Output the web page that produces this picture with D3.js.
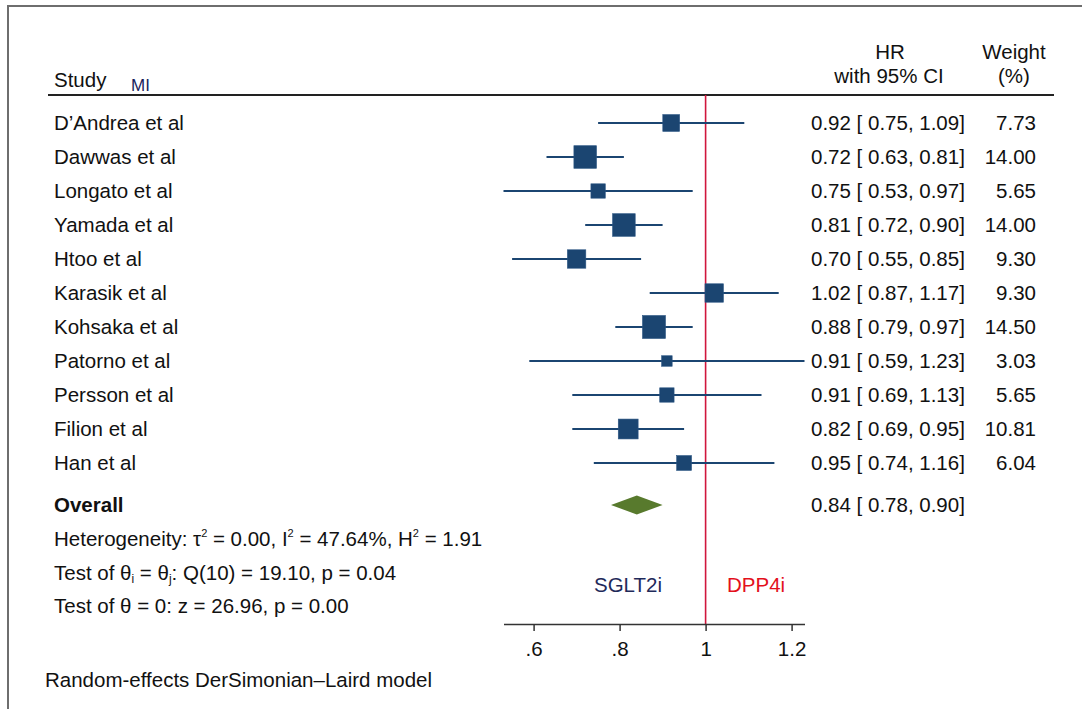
<!DOCTYPE html>
<html>
<head>
<meta charset="utf-8">
<script src="https://cdn.jsdelivr.net/npm/d3@7"></script>
<style>
  body { margin: 0; background: #fff; }
  text { font-family: "Liberation Sans", Arial, sans-serif; fill: #111; }
</style>
</head>
<body>
<div id="chart"></div>
<script>
// forest plot, MI outcome, SGLT2i vs DPP4i

const studies = ["D\u2019Andrea et al", "Dawwas et al", "Longato et al", "Yamada et al", "Htoo et al",
  "Karasik et al", "Kohsaka et al", "Patorno et al", "Persson et al", "Filion et al", "Han et al"];
const hr     = [0.92, 0.72, 0.75, 0.81, 0.70, 1.02, 0.88, 0.91, 0.91, 0.82, 0.95];
const lower  = [0.75, 0.63, 0.53, 0.72, 0.55, 0.87, 0.79, 0.59, 0.69, 0.69, 0.74];
const upper  = [1.09, 0.81, 0.97, 0.90, 0.85, 1.17, 0.97, 1.23, 1.13, 0.95, 1.16];
const weight = [7.73, 14.00, 5.65, 14.00, 9.30, 9.30, 14.50, 3.03, 5.65, 10.81, 6.04];

const overall = {hr: 0.84, lo: 0.78, hi: 0.90};
const tickVals = [0.6, 0.8, 1, 1.2];

const width = 1082, height = 709;
const fs = 20.5;
const navy = "#1b4571";

const data = studies.map((s, i) => ({study: s, hr: hr[i], lo: lower[i], hi: upper[i], w: weight[i]}));

const svg = d3.select("#chart").append("svg")
  .attr("width", width).attr("height", height);

// frame (cut off at right and bottom like the source image)
svg.append("path")
  .attr("d", `M8,${height} V6 H${width}`)
  .attr("fill", "none").attr("stroke", "#6e6e6e").attr("stroke-width", 2);

// scales
const x = d3.scaleLinear()
  .domain([d3.min(lower), d3.max(upper)])
  .range([503.5, 804.5]);
const y = d3.scaleLinear().domain([0, 1]).range([123, 157]); // row index -> centre
const size = d3.scaleSqrt().domain([0, d3.max(weight)]).range([0, 23]);

const overallY = y(data.length - 1) + 42;
const axisY = 624;
const headerY = 95;

// headers
svg.append("text").attr("x", 54).attr("y", 87).attr("font-size", fs).text("Study");
svg.append("text").attr("x", 131).attr("y", 91).attr("font-size", 17).style("fill", "#1a1f5c").text("MI");
svg.append("text").attr("x", 890).attr("y", 59).attr("font-size", fs).attr("text-anchor", "middle").text("HR");
svg.append("text").attr("x", 889).attr("y", 83).attr("font-size", fs).attr("text-anchor", "middle").text("with 95% CI");
svg.append("text").attr("x", 1014).attr("y", 59).attr("font-size", fs).attr("text-anchor", "middle").text("Weight");
svg.append("text").attr("x", 1014).attr("y", 83).attr("font-size", fs).attr("text-anchor", "middle").text("(%)");

svg.append("line")
  .attr("x1", 48).attr("x2", 1054).attr("y1", headerY).attr("y2", headerY)
  .attr("stroke", "#222").attr("stroke-width", 2);

// reference line at HR = 1
svg.append("line")
  .attr("x1", x(1)).attr("x2", x(1)).attr("y1", headerY).attr("y2", axisY)
  .attr("stroke", "#d0163c").attr("stroke-width", 1.6);

// study rows
const rows = svg.append("g").selectAll("g").data(data).join("g")
  .attr("transform", (d, i) => `translate(0,${y(i)})`);

rows.append("text").attr("x", 54).attr("y", 7).attr("font-size", fs).text(d => d.study);

rows.append("line")
  .attr("x1", d => x(d.lo)).attr("x2", d => x(d.hi))
  .attr("stroke", navy).attr("stroke-width", 2);

rows.append("rect")
  .attr("x", d => x(d.hr) - size(d.w) / 2)
  .attr("y", d => -size(d.w) / 2)
  .attr("width", d => size(d.w)).attr("height", d => size(d.w))
  .attr("fill", navy).attr("stroke", "#2a5583").attr("stroke-width", 0.6);

const f2 = d3.format(".2f");
rows.append("text").attr("x", 811).attr("y", 7).attr("font-size", fs)
  .text(d => `${f2(d.hr)} [ ${f2(d.lo)}, ${f2(d.hi)}]`);
rows.append("text").attr("x", 1036).attr("y", 7).attr("font-size", fs).attr("text-anchor", "end")
  .text(d => f2(d.w));

// overall
svg.append("text").attr("x", 54).attr("y", overallY + 7).attr("font-size", fs)
  .attr("font-weight", "bold").text("Overall");
svg.append("path")
  .attr("d", `M${x(overall.lo)},${overallY} L${x(overall.hr)},${overallY - 9.5} L${x(overall.hi)},${overallY} L${x(overall.hr)},${overallY + 9.5} Z`)
  .attr("fill", "#587a2d");
svg.append("text").attr("x", 811).attr("y", overallY + 7).attr("font-size", fs)
  .text(`${f2(overall.hr)} [ ${f2(overall.lo)}, ${f2(overall.hi)}]`);

// statistics lines
const het = svg.append("text").attr("x", 54).attr("y", overallY + 41).attr("font-size", fs);
het.append("tspan").text("Heterogeneity: \u03C4");
het.append("tspan").attr("font-size", 11).attr("dy", -9).text("2");
het.append("tspan").attr("dy", 9).text(" = 0.00, I");
het.append("tspan").attr("font-size", 11).attr("dy", -9).text("2");
het.append("tspan").attr("dy", 9).text(" = 47.64%, H");
het.append("tspan").attr("font-size", 11).attr("dy", -9).text("2");
het.append("tspan").attr("dy", 9).text(" = 1.91");

const t1 = svg.append("text").attr("x", 54).attr("y", overallY + 75).attr("font-size", fs);
t1.append("tspan").text("Test of \u03B8");
t1.append("tspan").attr("font-size", 12).attr("dy", 3).text("i");
t1.append("tspan").attr("dy", -3).text(" = \u03B8");
t1.append("tspan").attr("font-size", 12).attr("dy", 3).text("j");
t1.append("tspan").attr("dy", -3).text(": Q(10) = 19.10, p = 0.04");

svg.append("text").attr("x", 54).attr("y", overallY + 108).attr("font-size", fs)
  .text("Test of \u03B8 = 0: z = 26.96, p = 0.00");

// direction labels
svg.append("text").attr("x", 628).attr("y", 592).attr("font-size", fs).attr("text-anchor", "middle")
  .style("fill", "#1f2a5a").text("SGLT2i");
svg.append("text").attr("x", 727).attr("y", 592).attr("font-size", fs)
  .style("fill", "#e3101c").text("DPP4i");

// x axis
const axis = svg.append("g")
  .attr("transform", `translate(0,${axisY})`)
  .call(d3.axisBottom(x).tickValues(tickVals).tickSize(7).tickSizeOuter(0).tickPadding(10)
    .tickFormat(d => d === 1 ? "1" : d3.format(".1f")(d).replace(/^0/, "")));
axis.select(".domain").attr("stroke", "#333").attr("stroke-width", 1.5);
axis.selectAll(".tick line").attr("stroke", "#333").attr("stroke-width", 1.5);
axis.selectAll(".tick text").attr("font-size", fs).attr("font-family", "Liberation Sans, Arial, sans-serif")
  .style("fill", "#111");

// footnote
svg.append("text").attr("x", 45).attr("y", 687).attr("font-size", fs)
  .text("Random-effects DerSimonian\u2013Laird model");
</script>
</body>
</html>
